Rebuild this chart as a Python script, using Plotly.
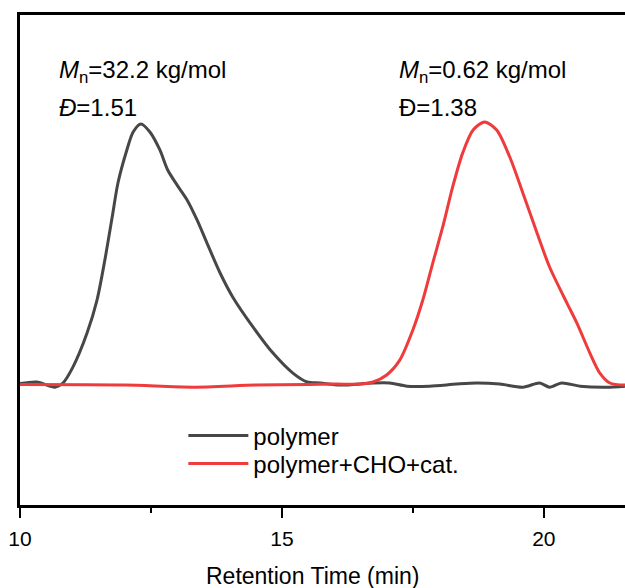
import plotly.graph_objects as go

# polymer (black) trace: retention time (min) and normalized intensity
t_polymer = [10.0, 10.32, 10.67, 10.82, 11.01, 11.28, 11.47, 11.62, 11.76, 11.87, 12.04, 12.16, 12.31,
             12.48, 12.67, 12.82, 13.0, 13.19, 13.38, 13.57, 13.82, 14.06, 14.45, 14.83, 15.21, 15.48,
             15.73, 16.11, 16.74, 17.06, 17.39, 17.82, 18.34, 18.72, 19.16, 19.60, 19.92, 20.11, 20.34,
             20.69, 21.20, 21.55]
i_polymer = [0.002, 0.008, -0.012, 0.004, 0.065, 0.196, 0.323, 0.477, 0.642, 0.773, 0.900, 0.969, 1.0,
             0.969, 0.900, 0.823, 0.765, 0.708, 0.631, 0.542, 0.427, 0.335, 0.219, 0.119, 0.042, 0.008,
             0.004, -0.004, 0.004, 0.004, -0.008, -0.008, 0.0, 0.004, 0.0, -0.012, 0.004, -0.012, 0.004,
             -0.008, -0.012, -0.008]

# polymer+CHO+cat. (red) trace
t_mix = [10.0, 12.0, 13.3, 14.5, 15.5, 16.0, 16.49, 16.74, 17.0, 17.25, 17.5, 17.69, 17.88, 18.07, 18.26,
         18.45, 18.65, 18.87, 19.10, 19.35, 19.60, 19.87, 20.11, 20.44, 20.63, 20.88, 21.07, 21.26, 21.55]
i_mix = [-0.002, -0.004, -0.012, -0.004, -0.002, 0.0, 0.0, 0.008, 0.035, 0.092, 0.208, 0.323, 0.465,
         0.604, 0.758, 0.888, 0.977, 1.008, 0.977, 0.873, 0.735, 0.581, 0.450, 0.312, 0.235, 0.119,
         0.042, 0.004, -0.004]

names = ["polymer", "polymer+CHO+cat."]
colors = ["#474747", "#ef3b3b"]

x_ticks = [10, 15, 20]
x_minor_ticks = [12.5, 17.5]
x_range = [10, 21.55]
y_range = [-0.465, 1.419]
x_title = "Retention Time (min)"

FONT = "Arial, Liberation Sans, sans-serif"

fig = go.Figure()
fig.add_trace(go.Scatter(x=t_polymer, y=i_polymer, mode="lines", name=names[0], legend="legend",
                         line=dict(color=colors[0], width=3, shape="spline", smoothing=0.8)))
fig.add_trace(go.Scatter(x=t_mix, y=i_mix, mode="lines", name=names[1], legend="legend2",
                         line=dict(color=colors[1], width=3, shape="spline", smoothing=0.8)))

legend_style = dict(xanchor="left", yanchor="middle", bgcolor="rgba(0,0,0,0)",
                    font=dict(size=24, family=FONT, color="black"), itemwidth=60)

fig.update_layout(
    width=625, height=588,
    margin=dict(l=20, r=0, t=15, b=83),
    paper_bgcolor="white", plot_bgcolor="white",
    font=dict(family=FONT, color="black", size=20),
    showlegend=True,
    legend=dict(x=0.27, y=0.141, **legend_style),
    legend2=dict(x=0.27, y=0.084, **legend_style),
    xaxis=dict(range=x_range, tickvals=x_ticks, ticks="outside", ticklen=10, tickwidth=2,
               tickcolor="black", showline=True, linecolor="black", linewidth=2.5, mirror=True,
               showgrid=False, zeroline=False, tickfont=dict(size=21, family=FONT),
               ticklabelstandoff=3,
               minor=dict(tickvals=x_minor_ticks, ticks="outside", ticklen=5, tickwidth=2,
                          tickcolor="black")),
    yaxis=dict(range=y_range, showticklabels=False, ticks="", showline=True, linecolor="black",
               linewidth=2.5, showgrid=False, zeroline=False),
)

ann = [
    ("<i>M</i><sub>n</sub>=32.2 kg/mol", 0.061, 0.884),
    ("<i>Đ</i>=1.51", 0.061, 0.812),
    ("<i>M</i><sub>n</sub>=0.62 kg/mol", 0.623, 0.884),
    ("Đ=1.38", 0.623, 0.812),
]
for text, x, y in ann:
    fig.add_annotation(text=text, xref="paper", yref="paper", x=x, y=y, xanchor="left",
                       yanchor="middle", showarrow=False, font=dict(size=24, family=FONT, color="black"))

# x-axis title
fig.add_annotation(text=x_title, xref="paper", yref="paper", x=0.484, y=-0.145, xanchor="center",
                   yanchor="middle", showarrow=False, font=dict(size=23, family=FONT, color="black"))

fig.write_html("out.html")
